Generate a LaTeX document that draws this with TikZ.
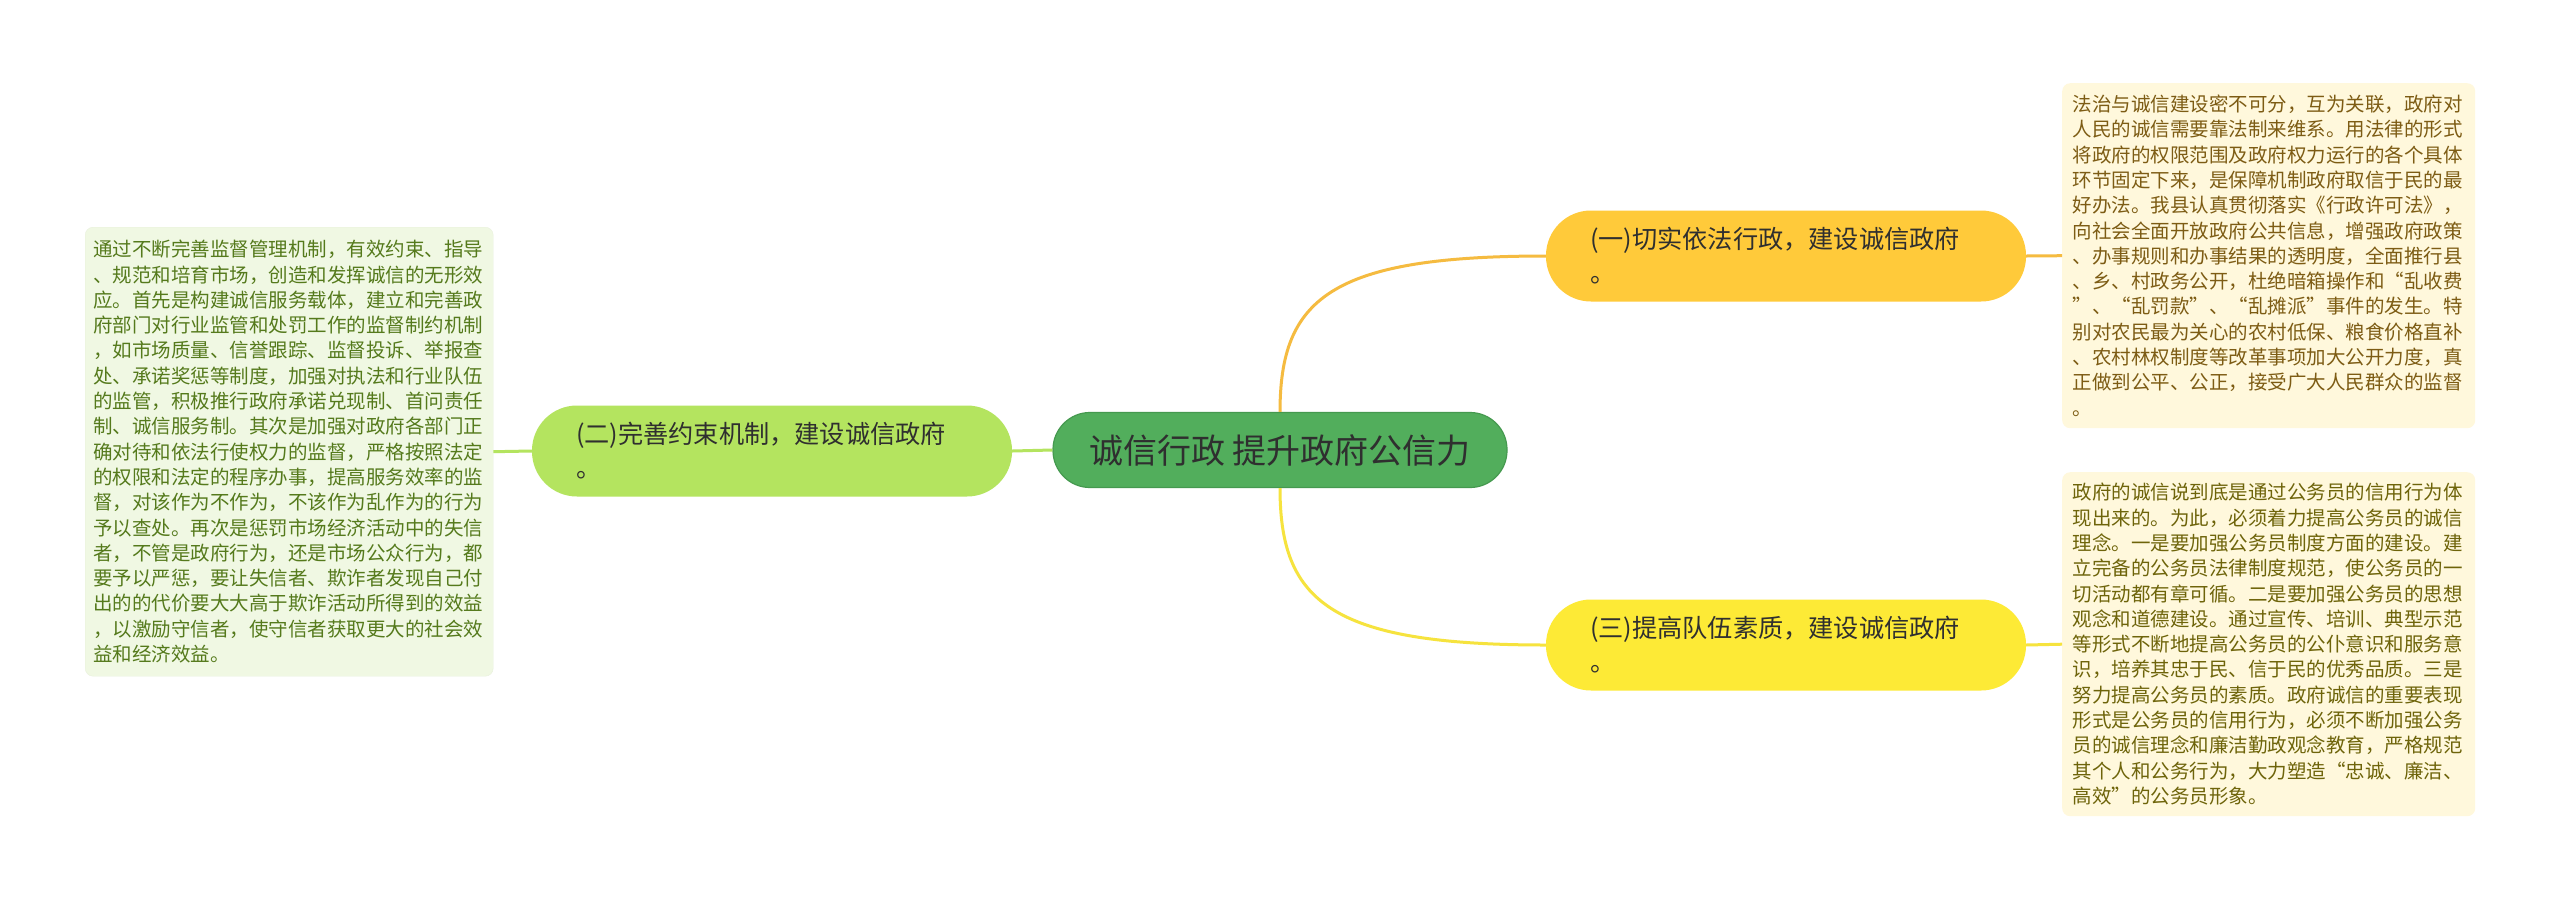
\documentclass[tikz,border=0pt]{standalone}
\usepackage{fontspec}
\setmainfont{Noto Sans CJK SC}
\definecolor{cgreen}{HTML}{52AE5C}
\definecolor{cgreendk}{HTML}{45994F}
\definecolor{corange}{HTML}{FFCA3A}
\definecolor{cyellow}{HTML}{FDEA36}
\definecolor{clime}{HTML}{B4E45F}
\definecolor{lorange}{HTML}{F5BB40}
\definecolor{lyellow}{HTML}{F6E33E}
\definecolor{llime}{HTML}{B4E45F}
\definecolor{boxgreen}{HTML}{F0F8E3}
\definecolor{boxyellow}{HTML}{FFF8DC}
\definecolor{txtgreen}{HTML}{557A1C}
\definecolor{txtbrown}{HTML}{7D5C14}
\definecolor{txtolive}{HTML}{6E640A}
\definecolor{ctext}{HTML}{2F2F2F}
\tikzset{
  topic/.style={rounded corners=37pt, fill=cgreen, draw=cgreendk, line width=1.2pt,
    minimum width=454pt, minimum height=75pt, inner sep=0pt,
    font=\fontsize{34}{40}\selectfont, text=ctext},
  branch/.style={rounded corners=45pt, minimum width=480pt, minimum height=91pt,
    inner sep=0pt, text width=392pt, align=left,
    font=\fontsize{25.2}{34}\selectfont, text=ctext},
  leafbox/.style={rounded corners=8pt, inner sep=0pt, text width=392pt, align=left,
    font=\fontsize{19.5}{25.3}\selectfont, anchor=north west},
  conn/.style={line width=3pt},
}
\begin{document}
\begin{tikzpicture}[x=1pt,y=-1pt]
\useasboundingbox (0,0) rectangle (2560,903);
\fill[white] (0,0) rectangle (2560,903);

\node[topic] (T) at (1280,450) {诚信行政 提升政府公信力};

\node[branch, fill=corange] (B1) at (1786,256) {(一)切实依法行政，建设诚信政府\\。};
\node[branch, fill=clime] (B2) at (772,451) {(二)完善约束机制，建设诚信政府\\。};
\node[branch, fill=cyellow] (B3) at (1786,645) {(三)提高队伍素质，建设诚信政府\\。};

\node[leafbox, fill=boxgreen, draw=boxgreen!85!black!20!boxgreen, text=txtgreen,
  minimum width=408pt, minimum height=449pt] (L) at (85,227) {%
通过不断完善监督管理机制，有效约束、指导\\
、规范和培育市场，创造和发挥诚信的无形效\\
应。首先是构建诚信服务载体，建立和完善政\\
府部门对行业监管和处罚工作的监督制约机制\\
，如市场质量、信誉跟踪、监督投诉、举报查\\
处、承诺奖惩等制度，加强对执法和行业队伍\\
的监管，积极推行政府承诺兑现制、首问责任\\
制、诚信服务制。其次是加强对政府各部门正\\
确对待和依法行使权力的监督，严格按照法定\\
的权限和法定的程序办事，提高服务效率的监\\
督，对该作为不作为，不该作为乱作为的行为\\
予以查处。再次是惩罚市场经济活动中的失信\\
者，不管是政府行为，还是市场公众行为，都\\
要予以严惩，要让失信者、欺诈者发现自己付\\
出的的代价要大大高于欺诈活动所得到的效益\\
，以激励守信者，使守信者获取更大的社会效\\
益和经济效益。};

\node[leafbox, fill=boxyellow, text=txtbrown,
  minimum width=413pt, minimum height=345pt] (R1) at (2062,83) {%
法治与诚信建设密不可分，互为关联，政府对\\
人民的诚信需要靠法制来维系。用法律的形式\\
将政府的权限范围及政府权力运行的各个具体\\
环节固定下来，是保障机制政府取信于民的最\\
好办法。我县认真贯彻落实《行政许可法》，\\
向社会全面开放政府公共信息，增强政府政策\\
、办事规则和办事结果的透明度，全面推行县\\
、乡、村政务公开，杜绝暗箱操作和“乱收费\\
”、“乱罚款”、“乱摊派”事件的发生。特\\
别对农民最为关心的农村低保、粮食价格直补\\
、农村林权制度等改革事项加大公开力度，真\\
正做到公平、公正，接受广大人民群众的监督\\
。};

\node[leafbox, fill=boxyellow, text=txtolive,
  minimum width=413pt, minimum height=344pt] (R3) at (2062,472) {%
政府的诚信说到底是通过公务员的信用行为体\\
现出来的。为此，必须着力提高公务员的诚信\\
理念。一是要加强公务员制度方面的建设。建\\
立完备的公务员法律制度规范，使公务员的一\\
切活动都有章可循。二是要加强公务员的思想\\
观念和道德建设。通过宣传、培训、典型示范\\
等形式不断地提高公务员的公仆意识和服务意\\
识，培养其忠于民、信于民的优秀品质。三是\\
努力提高公务员的素质。政府诚信的重要表现\\
形式是公务员的信用行为，必须不断加强公务\\
员的诚信理念和廉洁勤政观念教育，严格规范\\
其个人和公务行为，大力塑造“忠诚、廉洁、\\
高效”的公务员形象。};

\draw[conn, draw=lorange] (T.north) .. controls +(0,-113) and +(-216,0) .. (B1.west);
\draw[conn, draw=lyellow] (T.south) .. controls +(0,113) and +(-216,0) .. (B3.west);
\draw[conn, draw=llime] (T.west) -- (B2.east);
\draw[conn, draw=llime] (B2.west) -- (L.east);
\draw[conn, draw=lorange] (B1.east) -- (R1.west);
\draw[conn, draw=lyellow] (B3.east) -- (R3.west);
\end{tikzpicture}
\end{document}
